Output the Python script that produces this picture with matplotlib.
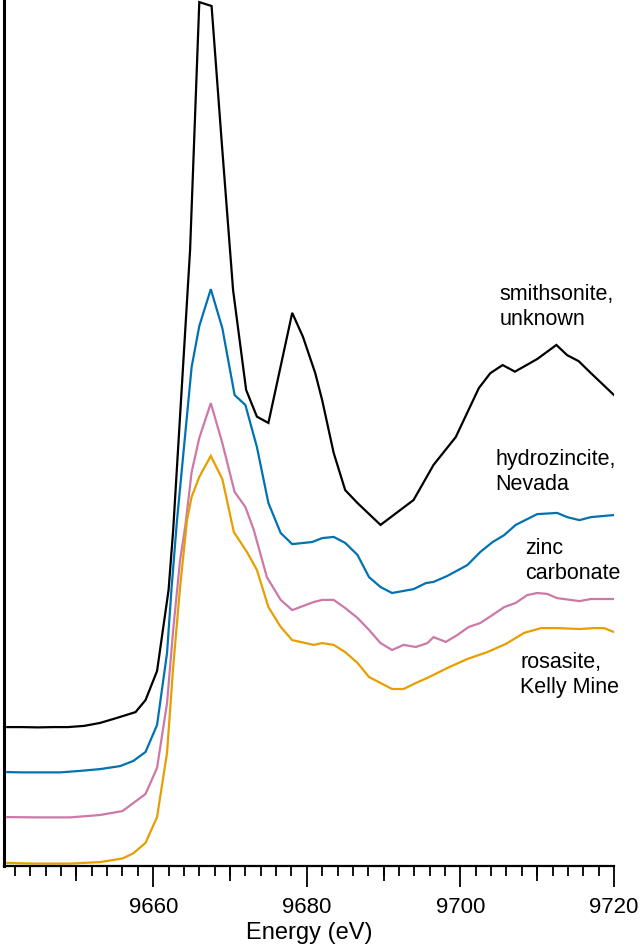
import matplotlib
matplotlib.use("Agg")
import matplotlib.pyplot as plt
from matplotlib.ticker import MultipleLocator

plt.rcParams["font.family"] = ["Liberation Sans", "DejaVu Sans"]

# Zn K-edge XANES spectra (normalized, stacked with offsets)
e_smith = [9641.0, 9642.9, 9645.0, 9647.0, 9648.9, 9651.0, 9653.1, 9655.2, 9657.7, 9659.0,
           9660.5, 9662.0, 9662.6, 9664.8, 9666.0, 9667.6, 9668.9, 9670.4, 9672.1, 9673.5,
           9675.0, 9678.1, 9679.5, 9681.1, 9682.0, 9683.5, 9685.0, 9686.6, 9689.6, 9693.9,
           9696.5, 9699.4, 9702.4, 9703.9, 9705.5, 9707.1, 9710.0, 9712.5, 9713.9, 9715.4,
           9717.0, 9720.0]
mu_smith = [0.463, 0.463, 0.462, 0.463, 0.463, 0.467, 0.477, 0.493, 0.513, 0.553,
            0.650, 0.920, 1.120, 2.053, 2.880, 2.867, 2.420, 1.920, 1.587, 1.498,
            1.477, 1.844, 1.764, 1.643, 1.553, 1.377, 1.253, 1.210, 1.137, 1.220,
            1.337, 1.430, 1.593, 1.643, 1.670, 1.648, 1.690, 1.737, 1.703, 1.683,
            1.643, 1.570]

e_hydro = [9641.0, 9642.9, 9645.3, 9647.9, 9650.5, 9653.1, 9655.7, 9657.4, 9659.0, 9660.5,
           9661.8, 9662.4, 9663.1, 9665.0, 9666.0, 9667.5, 9669.0, 9670.6, 9672.0, 9673.5,
           9675.0, 9676.6, 9678.1, 9680.7, 9682.0, 9683.5, 9685.0, 9686.6, 9688.1, 9689.6,
           9691.1, 9693.9, 9695.5, 9696.5, 9698.3, 9700.9, 9702.6, 9704.2, 9705.7, 9707.2,
           9710.0, 9712.6, 9713.9, 9715.5, 9717.0, 9720.0]
mu_hydro = [0.313, 0.312, 0.312, 0.312, 0.317, 0.323, 0.333, 0.350, 0.380, 0.470,
            0.710, 0.930, 1.153, 1.663, 1.800, 1.923, 1.793, 1.570, 1.537, 1.397,
            1.210, 1.110, 1.073, 1.080, 1.093, 1.097, 1.077, 1.037, 0.963, 0.930,
            0.910, 0.923, 0.943, 0.947, 0.967, 1.003, 1.047, 1.080, 1.103, 1.137,
            1.173, 1.177, 1.163, 1.153, 1.163, 1.170]

e_zinc = [9641.0, 9644.6, 9649.2, 9653.1, 9656.0, 9659.0, 9660.5, 9661.8, 9662.6, 9663.5,
          9664.2, 9665.0, 9666.0, 9667.5, 9669.0, 9670.6, 9672.0, 9673.1, 9674.8, 9676.6,
          9678.1, 9680.9, 9682.0, 9683.5, 9685.0, 9686.6, 9688.1, 9689.6, 9691.1, 9692.6,
          9694.2, 9695.7, 9696.5, 9698.1, 9699.6, 9701.1, 9702.6, 9704.2, 9705.7, 9707.2,
          9708.7, 9710.0, 9711.3, 9712.6, 9715.5, 9717.0, 9720.0]
mu_zinc = [0.163, 0.162, 0.162, 0.170, 0.183, 0.240, 0.327, 0.543, 0.787, 1.020,
           1.137, 1.313, 1.427, 1.543, 1.410, 1.247, 1.197, 1.120, 0.963, 0.887,
           0.853, 0.880, 0.887, 0.887, 0.860, 0.827, 0.787, 0.743, 0.720, 0.737,
           0.730, 0.743, 0.763, 0.747, 0.770, 0.797, 0.810, 0.837, 0.863, 0.877,
           0.903, 0.910, 0.907, 0.893, 0.883, 0.890, 0.890]

e_rosa = [9641.0, 9644.6, 9649.2, 9653.1, 9656.0, 9657.4, 9659.0, 9660.5, 9661.8, 9662.6,
          9663.5, 9664.4, 9665.0, 9666.0, 9667.5, 9669.0, 9670.5, 9672.2, 9673.5, 9675.0,
          9676.6, 9678.1, 9680.9, 9682.0, 9683.5, 9685.0, 9686.6, 9688.1, 9689.6, 9691.1,
          9692.6, 9694.2, 9695.7, 9698.3, 9700.9, 9703.5, 9705.9, 9708.3, 9710.5, 9712.6,
          9715.5, 9717.4, 9718.7, 9720.0]
mu_rosa = [0.010, 0.008, 0.008, 0.013, 0.025, 0.042, 0.077, 0.163, 0.377, 0.663,
           0.930, 1.153, 1.230, 1.297, 1.367, 1.290, 1.113, 1.047, 0.987, 0.863,
           0.797, 0.753, 0.737, 0.743, 0.737, 0.713, 0.677, 0.630, 0.610, 0.590,
           0.590, 0.610, 0.627, 0.660, 0.690, 0.713, 0.740, 0.777, 0.793, 0.793,
           0.790, 0.793, 0.793, 0.780]

labels = ["smithsonite,\nunknown", "hydrozincite,\nNevada", "zinc\ncarbonate", "rosasite,\nKelly Mine"]
colors = ["black", "#0072B2", "#CC79A7", "#E69F00"]

fig = plt.figure(figsize=(6.4, 9.46), dpi=100)
ax = fig.add_axes([0.00625, 0.0846, 0.9531, 0.9154])

series = [(e_smith, mu_smith), (e_hydro, mu_hydro), (e_zinc, mu_zinc), (e_rosa, mu_rosa)]
for (e, mu), c in zip(series, colors):
    ax.plot(e, mu, color=c, lw=1.6, solid_joinstyle="miter")

# sample labels to the right of each spectrum
label_pos = [(9705.1, 1.862), (9704.6, 1.312), (9708.4, 1.018), (9707.8, 0.635)]
for (x, y), txt in zip(label_pos, labels):
    ax.text(x, y, txt, fontsize=15.5, ha="left", va="center", linespacing=1.25)

ax.set_xlim(9640.57, 9720)
ax.set_ylim(0, 2.887)

for side in ["top", "right"]:
    ax.spines[side].set_visible(False)
ax.spines["left"].set_linewidth(2.2)
ax.spines["bottom"].set_linewidth(1.6)
ax.set_yticks([])

ax.xaxis.set_major_locator(MultipleLocator(20))
ax.xaxis.set_minor_locator(MultipleLocator(2))
ax.tick_params(axis="x", which="major", direction="out", length=15, width=1.3,
               labelsize=16, pad=7)
ax.tick_params(axis="x", which="minor", direction="out", length=7, width=1.3)

# intermediate ticks every 10 eV
sec = ax.secondary_xaxis("bottom")
sec.set_xticks([9650, 9670, 9690, 9710])
sec.set_xticklabels([])
sec.tick_params(axis="x", direction="out", length=11, width=1.3)
sec.spines["bottom"].set_visible(False)

ax.set_xlabel("Energy (eV)", fontsize=17, labelpad=3)

fig.savefig("out.png", dpi=100)
